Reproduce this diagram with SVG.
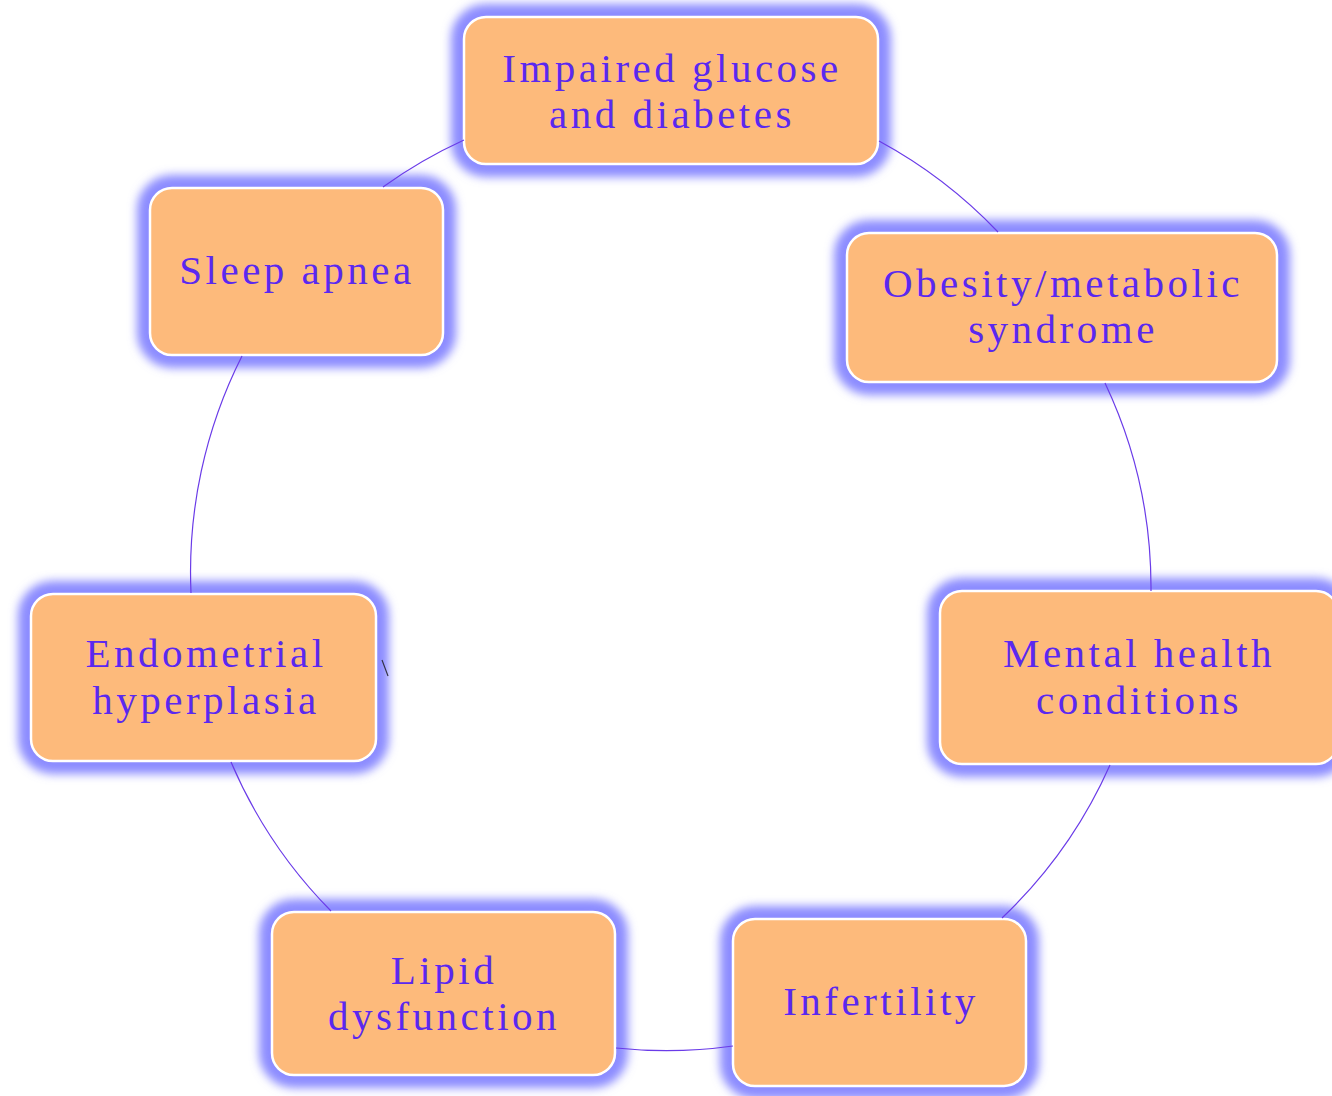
<svg xmlns="http://www.w3.org/2000/svg" width="1332" height="1096" viewBox="0 0 1332 1096">
<style>
.glow{fill:none;stroke:#8c8cff;stroke-width:26;filter:url(#blur)}
.box{fill:#fdba7b;stroke:#ffffff;stroke-width:2.5}
.lbl{font-family:"Liberation Serif",serif;font-size:41px;letter-spacing:3.5px;fill:#5a28f0;text-anchor:middle}
.conn{fill:none;stroke:#6a3be8;stroke-width:1.2}
</style>
<defs>
<filter id="blur" x="-20%" y="-30%" width="140%" height="160%"><feGaussianBlur stdDeviation="5"/></filter>
</defs>
<rect width="1332" height="1096" fill="#ffffff"/>
<g id="node-impaired">
<rect class="glow" x="464" y="17" width="414" height="147" rx="22"/>
<rect class="box" x="464" y="17" width="414" height="147" rx="22"/>
<text class="lbl" x="672" y="82">Impaired glucose</text>
<text class="lbl" x="672" y="128">and diabetes</text>
</g>
<g id="node-obesity">
<rect class="glow" x="847" y="233" width="430" height="149" rx="22"/>
<rect class="box" x="847" y="233" width="430" height="149" rx="22"/>
<text class="lbl" x="1063" y="297">Obesity/metabolic</text>
<text class="lbl" x="1063" y="343">syndrome</text>
</g>
<g id="node-mental">
<rect class="glow" x="940" y="591" width="398" height="173" rx="22"/>
<rect class="box" x="940" y="591" width="398" height="173" rx="22"/>
<text class="lbl" x="1139" y="667">Mental health</text>
<text class="lbl" x="1139" y="714">conditions</text>
</g>
<g id="node-infertility">
<rect class="glow" x="733" y="919" width="293" height="167" rx="22"/>
<rect class="box" x="733" y="919" width="293" height="167" rx="22"/>
<text class="lbl" x="881" y="1015">Infertility</text>
</g>
<g id="node-lipid">
<rect class="glow" x="272" y="912" width="343" height="163" rx="22"/>
<rect class="box" x="272" y="912" width="343" height="163" rx="22"/>
<text class="lbl" x="444" y="984">Lipid</text>
<text class="lbl" x="444" y="1030">dysfunction</text>
</g>
<g id="node-endometrial">
<rect class="glow" x="31" y="594" width="345" height="167" rx="22"/>
<rect class="box" x="31" y="594" width="345" height="167" rx="22"/>
<text class="lbl" x="206" y="667">Endometrial</text>
<text class="lbl" x="206" y="714">hyperplasia</text>
</g>
<g id="node-sleep">
<rect class="glow" x="150" y="188" width="293" height="167" rx="22"/>
<rect class="box" x="150" y="188" width="293" height="167" rx="22"/>
<text class="lbl" x="297" y="284">Sleep apnea</text>
</g>
<g id="connectors">
<path class="conn" d="M 879 141 A 479 479 0 0 1 998 232"/>
<path class="conn" d="M 1105 383 A 479 479 0 0 1 1151 591"/>
<path class="conn" d="M 1110 765 A 479 479 0 0 1 1002 918"/>
<path class="conn" d="M 733 1046 A 479 479 0 0 1 616 1048"/>
<path class="conn" d="M 331 911 A 479 479 0 0 1 231 762"/>
<path class="conn" d="M 191 593 A 479 479 0 0 1 242 356"/>
<path class="conn" d="M 383 187 A 479 479 0 0 1 464 140"/>
<line x1="382" y1="660" x2="388" y2="676" stroke="#333344" stroke-width="1.2"/>
</g>
</svg>
